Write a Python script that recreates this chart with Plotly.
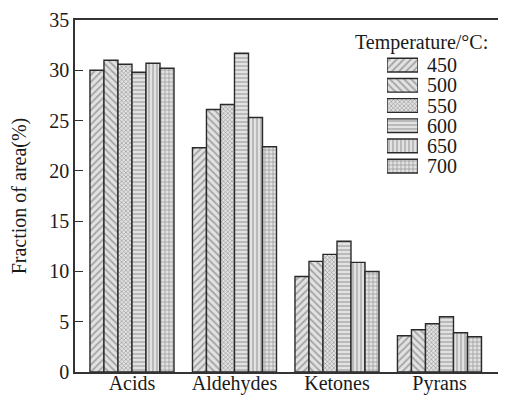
import plotly.graph_objects as go

categories = ["Acids", "Aldehydes", "Ketones", "Pyrans"]
temperatures = ["450", "500", "550", "600", "650", "700"]
values = {
    "450": [30.0, 22.3, 9.5, 3.6],
    "500": [31.0, 26.1, 11.0, 4.2],
    "550": [30.6, 26.6, 11.7, 4.8],
    "600": [29.8, 31.7, 13.0, 5.5],
    "650": [30.7, 25.3, 10.9, 3.9],
    "700": [30.2, 22.4, 10.0, 3.5],
}
y_ticks = [0, 5, 10, 15, 20, 25, 30, 35]
legend_title = "Temperature/°C:"

patterns = {"450": "/", "500": "\\", "550": "x", "600": "-", "650": "|", "700": "+"}
fg = {"450": "#666666", "500": "#666666", "550": "#3a3a3a", "600": "#707070",
      "650": "#707070", "700": "#505050"}
psize = {"450": 5, "500": 5, "550": 3, "600": 4, "650": 4, "700": 4}

FONT = "Liberation Serif, Times New Roman, serif"
# page body has an 8px margin; the plot area runs past the right edge of the window
W, H = 506, 393
L, R, T, B = 67, 0, 12, 29
pw, ph = W - L - R, H - T - B
SX0, SY0 = 75, 372  # screen position of plot-area left / bottom

def px_x(x):
    return (x - SX0) / pw

def px_y(y):
    return (SY0 - y) / ph

fig = go.Figure()
for t in temperatures:
    fig.add_trace(go.Bar(
        x=categories, y=values[t], name=t, showlegend=False,
        marker=dict(color="#e2e2e2", line=dict(color="#2a2a2a", width=1.4),
                    pattern=dict(shape=patterns[t], fgcolor=fg[t], size=psize[t],
                                 solidity=0.35)),
        xaxis="x", yaxis="y",
    ))

# manual legend swatches (one horizontal bar per temperature)
fig.add_trace(go.Bar(
    x=[1] * len(temperatures), y=temperatures, orientation="h", showlegend=False,
    width=0.68,
    marker=dict(color="#e2e2e2", line=dict(color="#2a2a2a", width=1.4),
                pattern=dict(shape=[patterns[t] for t in temperatures],
                             fgcolor=[fg[t] for t in temperatures],
                             size=[psize[t] for t in temperatures],
                             solidity=0.35)),
    xaxis="x2", yaxis="y2", hoverinfo="skip",
))

n = len(temperatures)
leg_top, leg_step = 55, 20.2
y2_top = px_y(leg_top)
y2_bot = px_y(leg_top + leg_step * n)

fig.update_layout(
    width=W, height=H,
    margin=dict(l=L, r=R, t=T, b=B),
    paper_bgcolor="white", plot_bgcolor="white",
    font=dict(family=FONT, size=20, color="#1a1a1a"),
    barmode="group", bargap=0.18, bargroupgap=0,
    xaxis=dict(
        range=[-0.556, 3.727], showline=True, linecolor="#333", linewidth=1.5,
        mirror=True, ticks="", showgrid=False, zeroline=False,
        tickfont=dict(size=20), ticklabelstandoff=-8, automargin=False,
    ),
    yaxis=dict(
        range=[0, 35], tickvals=y_ticks, ticks="inside", ticklen=8, tickwidth=1.3,
        tickcolor="#333", showline=True, linecolor="#333", linewidth=1.5,
        showgrid=False, zeroline=False, tickfont=dict(size=20),
        title=dict(text="Fraction of area(%)", font=dict(size=20), standoff=24),
        automargin=False,
    ),
    xaxis2=dict(domain=[px_x(387), px_x(418)], range=[0, 1], anchor="y2",
                visible=False, fixedrange=True, automargin=False),
    yaxis2=dict(domain=[y2_bot, y2_top], anchor="x2", type="category",
                categoryorder="array", categoryarray=temperatures[::-1],
                range=[-0.5, n - 0.5], visible=False, fixedrange=True,
                automargin=False),
    showlegend=False,
)

for i, t in enumerate(temperatures):
    fig.add_annotation(x=px_x(425), y=px_y(leg_top + leg_step * (i + 0.5)),
                       xref="paper", yref="paper", text=t,
                       showarrow=False, xanchor="left", yanchor="middle",
                       font=dict(size=20))
fig.add_annotation(x=px_x(421), y=px_y(42), xref="paper", yref="paper",
                   text=legend_title, showarrow=False, xanchor="center",
                   yanchor="middle", font=dict(size=20))

fig.write_html("out.html")
